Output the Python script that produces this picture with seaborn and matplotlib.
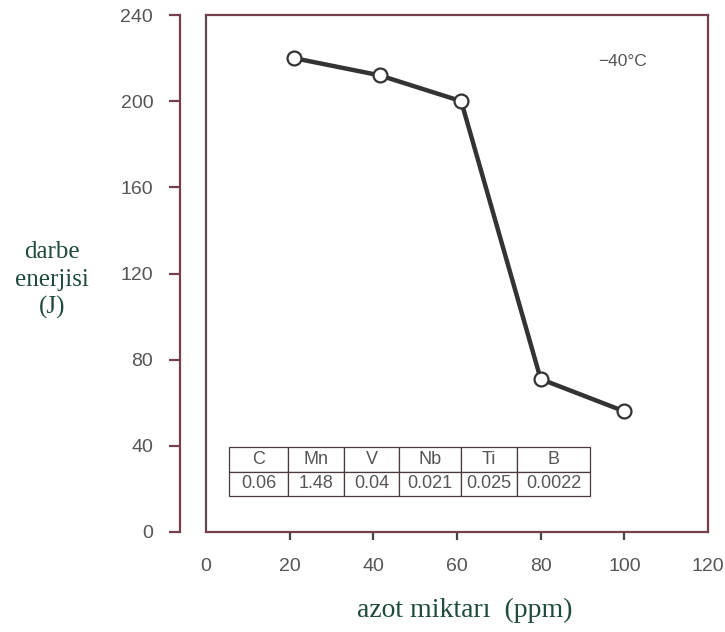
import matplotlib
matplotlib.use("Agg")
import matplotlib.pyplot as plt
import seaborn as sns
import pandas as pd

# data
azot_ppm = [21, 41.5, 61, 80, 100]
darbe_enerjisi = [220, 212, 200, 71, 56]
x_ticks = [0, 20, 40, 60, 80, 100, 120]
y_ticks = [0, 40, 80, 120, 160, 200, 240]
elements = ["C", "Mn", "V", "Nb", "Ti", "B"]
compositions = ["0.06", "1.48", "0.04", "0.021", "0.025", "0.0022"]
col_px = [59, 56, 55, 62, 56, 73]

sns.set_style("white")
plt.rcParams['font.family'] = ['Liberation Sans', 'DejaVu Sans']

spine_c = "#74404b"
tick_txt = "#555555"
green = "#1f4a3e"

fig = plt.figure(figsize=(7.25, 6.32), dpi=100)
ax = fig.add_axes([206/725, 1-532/632, 502/725, 517/632])

df = pd.DataFrame({"azot": azot_ppm, "enerji": darbe_enerjisi})
sns.lineplot(data=df, x="azot", y="enerji", ax=ax, color="#333333", lw=3.2,
             marker="o", markersize=10, markerfacecolor="white",
             markeredgecolor="#333333", markeredgewidth=1.6)

ax.set_xlim(0, 120)
ax.set_ylim(0, 240)
ax.set_xticks(x_ticks)
ax.set_yticks(y_ticks)

for s in ["top", "right", "bottom", "left"]:
    ax.spines[s].set_visible(True)
    ax.spines[s].set_color(spine_c)
    ax.spines[s].set_linewidth(1.6)
ax.spines["left"].set_position(("outward", 19))
# inner box left edge
ax.plot([0, 0], [0, 1], transform=ax.transAxes, color="#5e4a50", lw=1.6, clip_on=False)

ax.tick_params(axis="y", direction="out", length=8, width=1.6, color=spine_c,
               labelcolor=tick_txt, labelsize=14, pad=11, left=True)
ax.tick_params(axis="x", direction="out", length=6, width=1.6, color="#444444",
               labelcolor=tick_txt, labelsize=14, pad=13, bottom=True)
xt = ax.xaxis.get_major_ticks()
xt[0].tick1line.set_visible(False)
xt[-1].tick1line.set_visible(False)

ax.set_xlabel("azot miktarı  (ppm)", fontsize=20, color=green, family="Liberation Serif")
ax.xaxis.set_label_coords(0.516, -0.151)
ax.xaxis.label.set_va("center")
ax.set_ylabel("darbe\nenerjisi\n(J)", fontsize=18, color=green, family="Liberation Serif",
              rotation=0, ha="center", va="center", linespacing=1.3)
ax.yaxis.set_label_coords(-0.307, 0.487)

ax.text(0.83, 0.91, "−40°C", transform=ax.transAxes, fontsize=12.5, color=tick_txt,
        ha="center", va="center")

total = sum(col_px)
widths = [c / total * (590 - 229) / 502 for c in col_px]
tbl = ax.table(cellText=[elements, compositions], colWidths=widths, cellLoc="center",
               bbox=[(229-206)/502, (532-496)/517, (590-229)/502, (496-447)/517])
tbl.auto_set_font_size(False)
tbl.set_fontsize(13)
for (r, c), cell in tbl.get_celld().items():
    cell.set_edgecolor("#4a3a3a")
    cell.set_linewidth(0.9)
    cell.get_text().set_color(tick_txt)

fig.savefig("out.png", dpi=100)
